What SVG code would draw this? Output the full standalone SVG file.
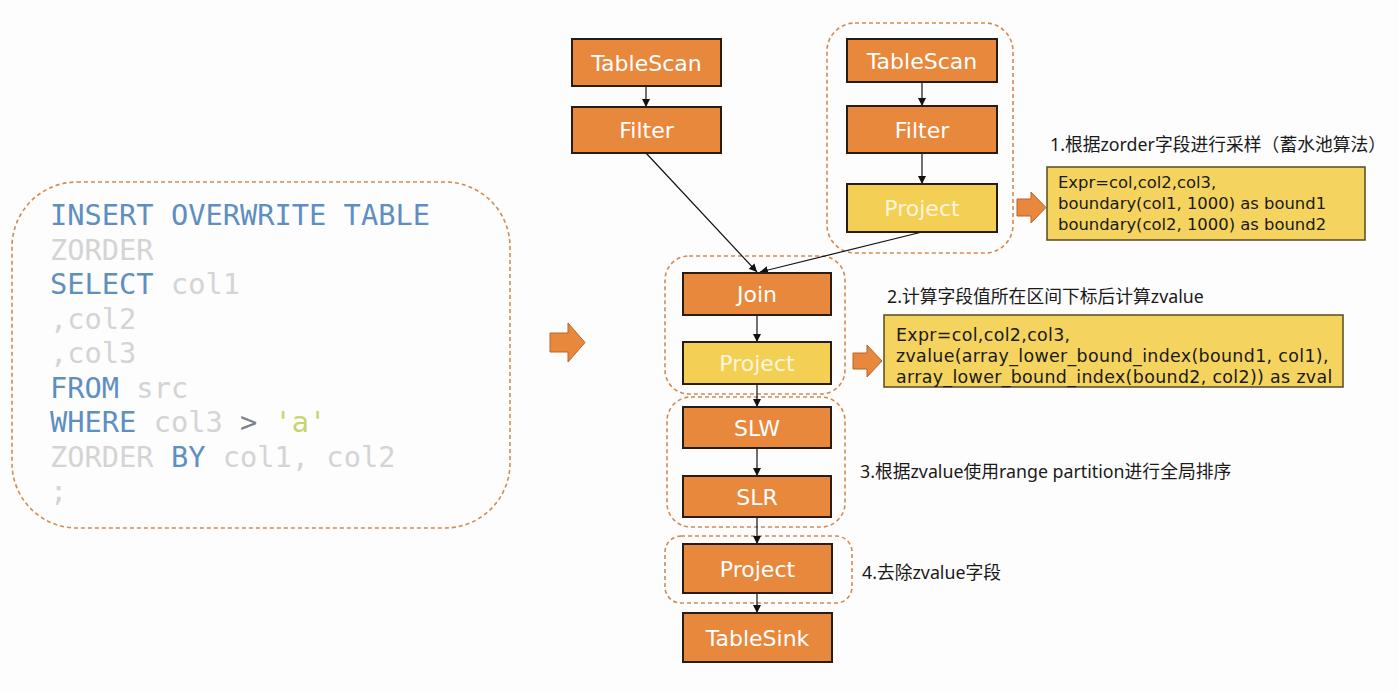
<svg xmlns="http://www.w3.org/2000/svg" width="1398" height="692" viewBox="0 0 1398 692">
<defs>
<style>
.bg{fill:#fdfdfd}
.grp{fill:none;stroke:#d38a4f;stroke-width:1.6;stroke-dasharray:4 3}
.node{fill:#e8883d;stroke:#2a1c10;stroke-width:2}
.ynode{fill:#f3cf54;stroke:#2a1c10;stroke-width:2}
.nt{font-family:"DejaVu Sans",sans-serif;font-size:22px;fill:#ffffff;text-anchor:middle}
.yt{fill:#fff6dc}
.expr{fill:#f5d35f;stroke:#5a4a20;stroke-width:1.5}
.et{font-family:"DejaVu Sans","Noto Sans CJK SC",sans-serif;font-size:16.4px;fill:#1a1a1a}
.et2{font-family:"DejaVu Sans","Noto Sans CJK SC",sans-serif;font-size:17.4px;letter-spacing:0.35px;fill:#1a1a1a}
.lab{font-family:"Noto Sans","Noto Sans CJK SC",sans-serif;font-size:17.8px;fill:#1a1a1a}
.blk{fill:#e8883d;stroke:#b8652a;stroke-width:1}
.conn{stroke:#111;stroke-width:1.2;fill:none;marker-end:url(#ah)}
.sql{font-family:"DejaVu Sans Mono",monospace;font-size:28.7px}
.kw{fill:#5e8fbf}
.id{fill:#d4d4d4}
.op{fill:#7d828c}
.st{fill:#c9d46e}
</style>
<marker id="ah" viewBox="0 0 10 10" refX="10" refY="5" markerWidth="8" markerHeight="8" markerUnits="userSpaceOnUse" orient="auto">
<path d="M0,0 L10,5 L0,10 z" fill="#111"/>
</marker>
</defs>
<rect class="bg" x="0" y="0" width="1398" height="692"/>

<g id="sql-box">
<rect class="grp" x="12" y="182" width="498" height="346" rx="65" ry="65"/>
<text class="sql" xml:space="preserve"><tspan class="kw" x="50" y="225">INSERT OVERWRITE TABLE</tspan><tspan class="id" x="50" y="259.5">ZORDER</tspan><tspan class="kw" x="50" y="294">SELECT</tspan><tspan class="id"> col1</tspan><tspan class="id" x="50" y="328.5">,col2</tspan><tspan class="id" x="50" y="363">,col3</tspan><tspan class="kw" x="50" y="397.5">FROM</tspan><tspan class="id"> src</tspan><tspan class="kw" x="50" y="432">WHERE</tspan><tspan class="id"> col3 </tspan><tspan class="op">&gt;</tspan><tspan class="st"> 'a'</tspan><tspan class="id" x="50" y="466.5">ZORDER</tspan><tspan class="kw"> BY</tspan><tspan class="id"> col1, col2</tspan><tspan class="id" x="50" y="501">;</tspan></text>
</g>

<g id="main-arrow">
<path class="blk" d="M550,333 L568,333 L568,323 L585,342.5 L568,362 L568,352 L550,352 z"/>
</g>

<g id="groups">
<rect class="grp" x="827" y="23" width="186" height="230" rx="28"/>
<rect class="grp" x="665" y="256" width="180" height="138" rx="24"/>
<rect class="grp" x="667" y="397" width="178" height="130" rx="24"/>
<rect class="grp" x="665" y="536" width="187" height="67" rx="16"/>
</g>

<g id="connectors">
<line class="conn" x1="646" y1="86" x2="646" y2="107"/>
<line class="conn" x1="922" y1="82" x2="922" y2="106"/>
<line class="conn" x1="922" y1="153" x2="922" y2="184"/>
<line class="conn" x1="646" y1="153" x2="757" y2="272"/>
<line class="conn" x1="922" y1="232" x2="760" y2="272"/>
<line class="conn" x1="757" y1="315" x2="757" y2="342"/>
<line class="conn" x1="757" y1="384" x2="757" y2="407"/>
<line class="conn" x1="757" y1="448" x2="757" y2="476"/>
<line class="conn" x1="757" y1="517" x2="757" y2="544"/>
<line class="conn" x1="757" y1="593" x2="757" y2="613"/>
</g>

<g id="tablescan-left"><rect class="node" x="572" y="39" width="149" height="47"/><text class="nt" x="646.5" y="70.5">TableScan</text></g>
<g id="filter-left"><rect class="node" x="572" y="107" width="149" height="46"/><text class="nt" x="646.5" y="138">Filter</text></g>
<g id="tablescan-right"><rect class="node" x="847" y="39" width="150" height="43"/><text class="nt" x="922" y="68.5">TableScan</text></g>
<g id="filter-right"><rect class="node" x="847" y="106" width="150" height="47"/><text class="nt" x="922" y="137.5">Filter</text></g>
<g id="project-right"><rect class="ynode" x="847" y="184" width="150" height="48"/><text class="nt yt" x="922" y="216">Project</text></g>
<g id="join"><rect class="node" x="683" y="273" width="148" height="42"/><text class="nt" x="757" y="302">Join</text></g>
<g id="project-zvalue"><rect class="ynode" x="683" y="342" width="148" height="42"/><text class="nt yt" x="757" y="371">Project</text></g>
<g id="slw"><rect class="node" x="683" y="407" width="148" height="41"/><text class="nt" x="757" y="435.5">SLW</text></g>
<g id="slr"><rect class="node" x="683" y="476" width="148" height="41"/><text class="nt" x="757" y="504.5">SLR</text></g>
<g id="project-final"><rect class="node" x="683" y="544" width="149" height="49"/><text class="nt" x="757.5" y="576.5">Project</text></g>
<g id="tablesink"><rect class="node" x="683" y="613" width="149" height="49"/><text class="nt" x="757.5" y="645.5">TableSink</text></g>

<g id="step1">
<text class="lab" x="1050" y="151">1.根据zorder字段进行采样（蓄水池算法）</text>
<path class="blk" d="M1017,199 L1031,199 L1031,192 L1046,207.5 L1031,223 L1031,216 L1017,216 z"/>
<rect class="expr" x="1047" y="167" width="318" height="73"/>
<text class="et"><tspan x="1058" y="188">Expr=col,col2,col3,</tspan><tspan x="1058" y="209">boundary(col1, 1000) as bound1</tspan><tspan x="1058" y="230">boundary(col2, 1000) as bound2</tspan></text>
</g>

<g id="step2">
<text class="lab" x="887" y="303">2.计算字段值所在区间下标后计算zvalue</text>
<path class="blk" d="M853,353 L867,353 L867,345 L882,361 L867,377 L867,369 L853,369 z"/>
<rect class="expr" x="884" y="315" width="459" height="72"/>
<text class="et2"><tspan x="896" y="340.5">Expr=col,col2,col3,</tspan><tspan x="896" y="361.5">zvalue(array_lower_bound_index(bound1, col1),</tspan><tspan x="896" y="382.5">array_lower_bound_index(bound2, col2)) as zval</tspan></text>
</g>

<g id="step3"><text class="lab" x="860" y="478">3.根据zvalue使用range partition进行全局排序</text></g>
<g id="step4"><text class="lab" x="862" y="579">4.去除zvalue字段</text></g>
</svg>
